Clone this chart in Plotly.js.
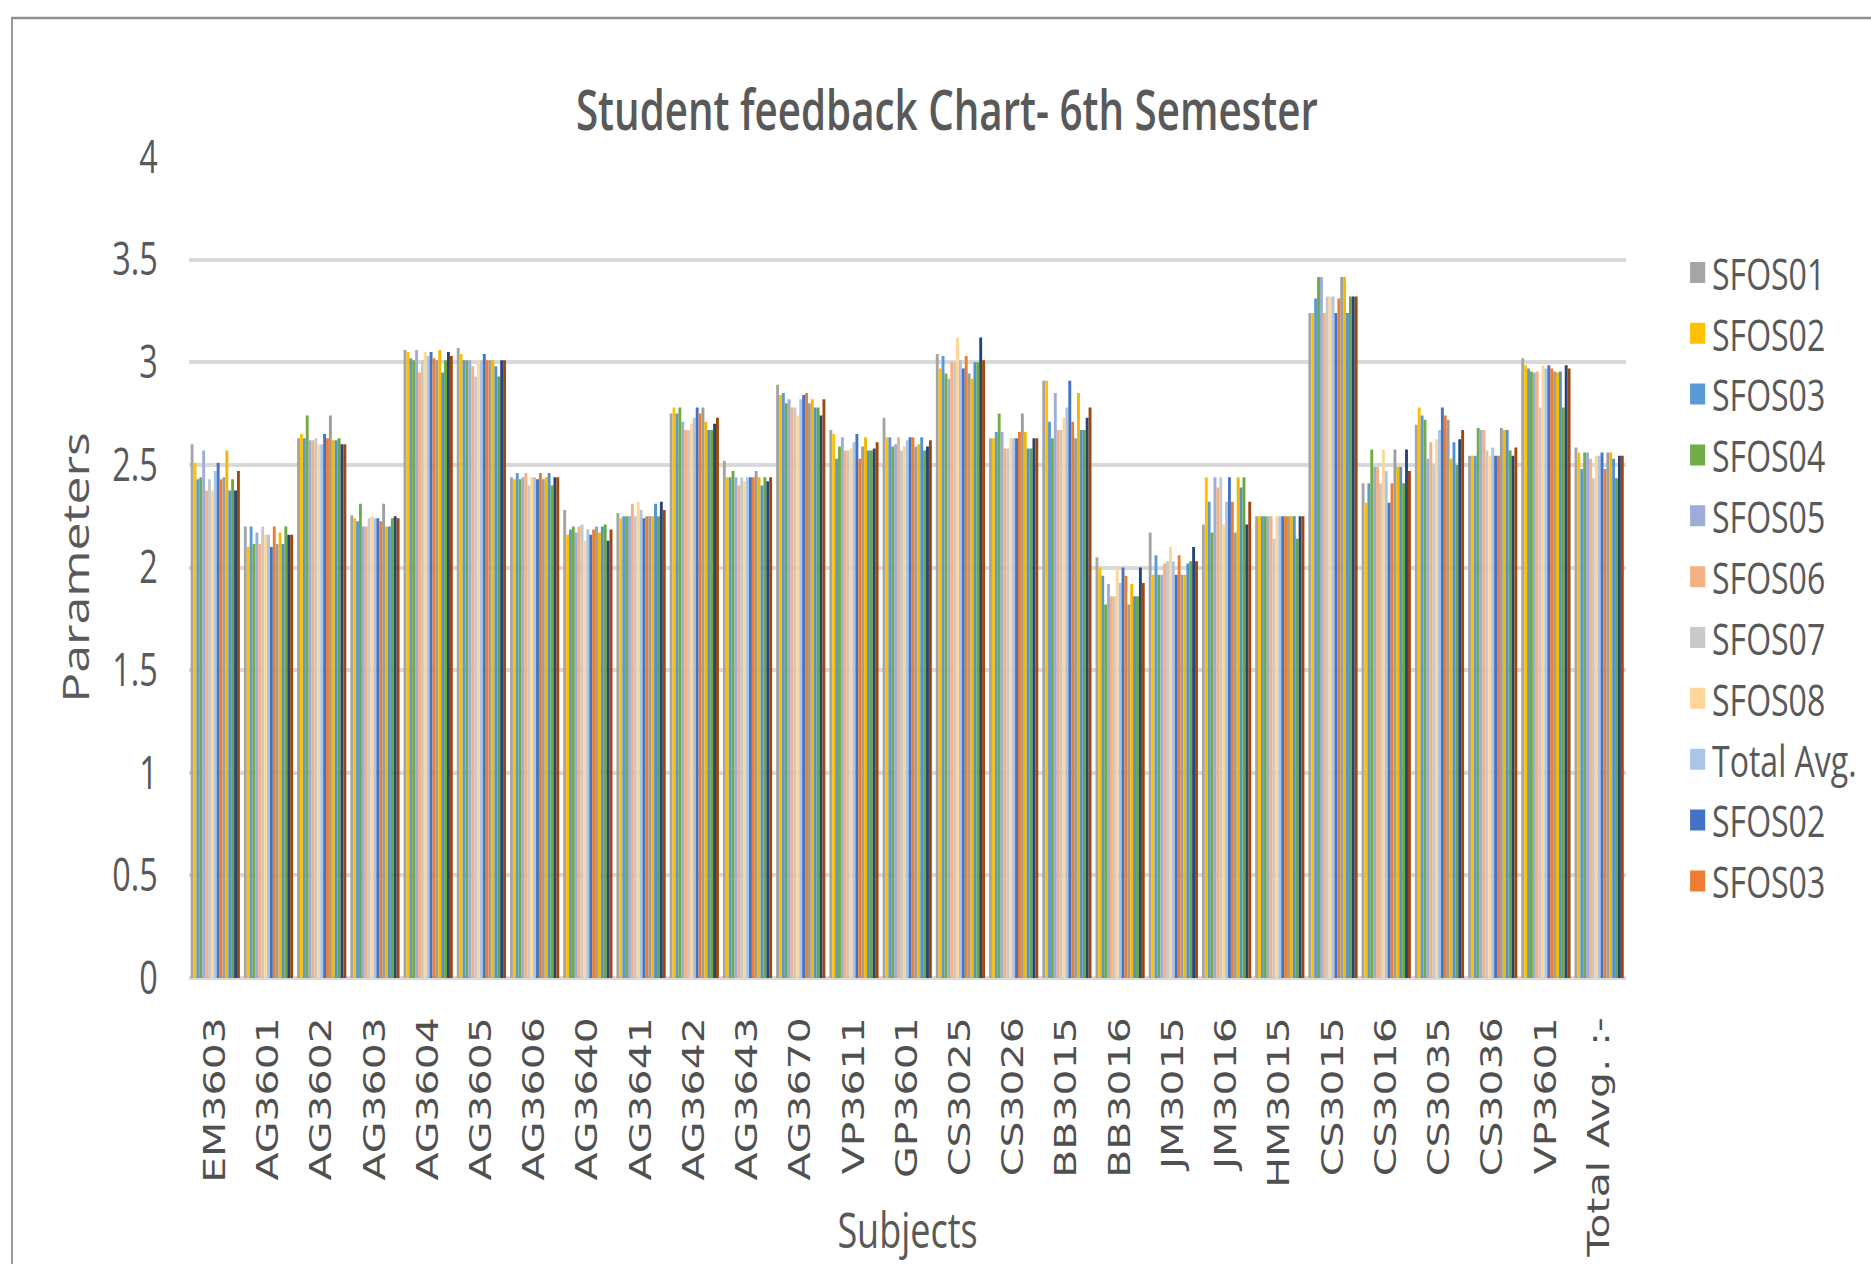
<!DOCTYPE html>
<html>
<head>
<meta charset="utf-8">
<script src="https://cdn.plot.ly/plotly-3.0.1.min.js"></script>
<style>
html, body { margin:0; padding:0; overflow:hidden; background:#ffffff; width:1871px; height:1264px; }
#wrap { width:1871px; height:1264px; overflow:hidden; position:relative; }
#chart { width:2599px; height:1264px; position:absolute; left:0; top:0; transform:scaleX(0.72); transform-origin:0 0; }
</style>
</head>
<body>
<div id="wrap"><div id="chart"></div></div>
<script>
// ---- data ----
const categories = ["EM3603","AG3601","AG3602","AG3603","AG3604","AG3605","AG3606","AG3640","AG3641","AG3642","AG3643","AG3670","VP3611","GP3601","CS3025","CS3026","BB3015","BB3016","JM3015","JM3016","HM3015","CS3015","CS3016","CS3035","CS3036","VP3601","Total Avg. :-"];

const SFOS01   = [2.60,2.20,2.63,2.255,3.06,3.07,2.44,2.28,2.265,2.75,2.52,2.89,2.67,2.73,3.04,2.63,2.91,2.05,2.17,2.21,2.25,3.24,2.41,2.695,2.545,3.02,2.585];
const SFOS02   = [2.51,2.10,2.65,2.24,3.05,3.04,2.43,2.16,2.24,2.78,2.44,2.84,2.65,2.635,2.97,2.63,2.91,2.00,1.965,2.44,2.25,3.24,2.315,2.78,2.545,2.985,2.56];
const SFOS03   = [2.43,2.20,2.63,2.225,3.02,3.01,2.46,2.185,2.25,2.75,2.44,2.85,2.53,2.635,3.03,2.66,2.71,1.96,2.06,2.32,2.25,3.31,2.41,2.74,2.545,2.97,2.48];
const SFOS04   = [2.44,2.115,2.74,2.31,3.01,3.01,2.43,2.20,2.25,2.78,2.47,2.80,2.59,2.59,2.945,2.75,2.63,1.82,1.965,2.17,2.25,3.415,2.575,2.72,2.68,2.955,2.56];
const SFOS05   = [2.57,2.17,2.62,2.20,3.06,3.01,2.44,2.17,2.25,2.71,2.44,2.82,2.635,2.60,2.92,2.66,2.85,1.92,1.965,2.44,2.25,3.415,2.49,2.53,2.67,2.95,2.56];
const SFOS06   = [2.375,2.115,2.62,2.20,2.95,2.98,2.46,2.20,2.31,2.67,2.40,2.78,2.57,2.635,3.00,2.58,2.67,1.86,2.02,2.39,2.25,3.24,2.49,2.61,2.67,2.955,2.53];
const SFOS07   = [2.43,2.20,2.63,2.24,3.01,2.93,2.40,2.21,2.25,2.67,2.44,2.78,2.57,2.57,3.00,2.58,2.67,1.86,2.03,2.44,2.14,3.32,2.41,2.50,2.57,2.78,2.435];
const SFOS08   = [2.375,2.16,2.60,2.25,3.05,3.01,2.44,2.13,2.32,2.70,2.42,2.74,2.58,2.59,3.12,2.63,2.73,2.00,2.10,2.21,2.25,3.32,2.575,2.625,2.545,2.985,2.545];
const TotalAvg = [2.47,2.16,2.60,2.24,3.03,3.01,2.44,2.185,2.28,2.73,2.44,2.82,2.61,2.62,3.01,2.63,2.78,1.925,2.03,2.32,2.25,3.32,2.47,2.67,2.585,2.97,2.545];

const seriesNames = ["SFOS01","SFOS02","SFOS03","SFOS04","SFOS05","SFOS06","SFOS07","SFOS08","Total Avg.",
                     "SFOS02","SFOS03","SFOS04","SFOS05","SFOS06","SFOS07","SFOS08","Total Avg."];
const seriesValues = [SFOS01,SFOS02,SFOS03,SFOS04,SFOS05,SFOS06,SFOS07,SFOS08,TotalAvg,
                      SFOS02,SFOS03,SFOS04,SFOS05,SFOS06,SFOS07,SFOS08,TotalAvg];
const yTicks = [0,0.5,1,1.5,2,2.5,3,3.5,4];

// ---- styles ----
const seriesColors = ["#A5A5A5","#FFC000","#5B9BD5","#70AD47","#9EACD8","#F4B183","#C9C9C9","#FFD699","#A9C6E8",
                      "#4472C4","#ED7D31","#9E9E9E","#F5B800","#5193D2","#68A842","#264478","#9E480E"];
const LEGEND_COUNT = 11;
const textColor = "#595959";
const calibriLike = "Open Sans, Liberation Sans, sans-serif";

const barTraces = seriesValues.map((vals, i) => ({
  type: "bar",
  name: seriesNames[i],
  x: categories,
  y: vals,
  legendgroup: "s" + i,
  marker: { color: seriesColors[i], line: { width: 0 } },
  showlegend: false,
  hoverinfo: "name+x+y"
}));

// legend entries (square swatches) for the first series, as in the reference
const legendTraces = seriesNames.slice(0, LEGEND_COUNT).map((nm, i) => ({
  type: "scatter",
  mode: "markers",
  name: nm,
  legendgroup: "s" + i,
  x: [null],
  y: [null],
  marker: { symbol: "square", size: 16, color: seriesColors[i], line: { color: seriesColors[i], width: 5 } },
  showlegend: true,
  hoverinfo: "skip"
}));

const layout = {
  width: 2599,
  height: 1264,
  margin: { l: 262, r: 341, t: 157, b: 286, pad: 0 },
  paper_bgcolor: "#ffffff",
  plot_bgcolor: "#ffffff",
  barmode: "group",
  bargap: 0.075,
  bargroupgap: 0,
  title: {
    text: "Student feedback Chart- 6th Semester",
    font: { family: calibriLike, size: 56, color: textColor, weight: 600 },
    x: 0.506, xref: "container", xanchor: "center",
    y: 0.913, yref: "container", yanchor: "middle"
  },
  xaxis: {
    type: "category",
    tickangle: -90,
    ticks: "",
    ticklabelstandoff: 30,
    tickfont: { family: "DejaVu Sans, Verdana, sans-serif", size: 41, color: "#505050" },
    showgrid: false,
    showline: false,
    zeroline: false,
    automargin: false
  },
  yaxis: {
    range: [0, 4],
    tickvals: yTicks,
    ticks: "",
    ticklabelstandoff: 42,
    tickfont: { family: calibriLike, size: 45, color: textColor },
    showgrid: true,
    gridcolor: "#D9D9D9",
    gridwidth: 4,
    zeroline: true,
    zerolinecolor: "#D9D9D9",
    zerolinewidth: 4,
    showline: false,
    automargin: false,
    title: {
      text: "Parameters",
      font: { family: calibriLike, size: 50, color: textColor },
      standoff: 15
    }
  },
  legend: {
    x: 1.040, xanchor: "left",
    y: 0.9026, yanchor: "top",
    font: { family: calibriLike, size: 44.5, color: textColor },
    bgcolor: "rgba(0,0,0,0)",
    traceorder: "normal",
    itemclick: false, itemdoubleclick: false
  },
  annotations: [{
    text: "Subjects",
    xref: "paper", yref: "paper",
    x: 0.5, y: -0.3063,
    xanchor: "center", yanchor: "middle",
    showarrow: false,
    font: { family: calibriLike, size: 50, color: textColor }
  }],
  shapes: [{
    type: "rect", xref: "paper", yref: "paper",
    x0: -0.1229, x1: 1.20, y0: 1.1693, y1: -0.40,
    line: { color: "#8f8f8f", width: 2.5 },
    fillcolor: "rgba(0,0,0,0)",
    layer: "below"
  }]
};

Plotly.newPlot("chart", barTraces.concat(legendTraces), layout, { displayModeBar: false, staticPlot: true });
</script>
</body>
</html>
